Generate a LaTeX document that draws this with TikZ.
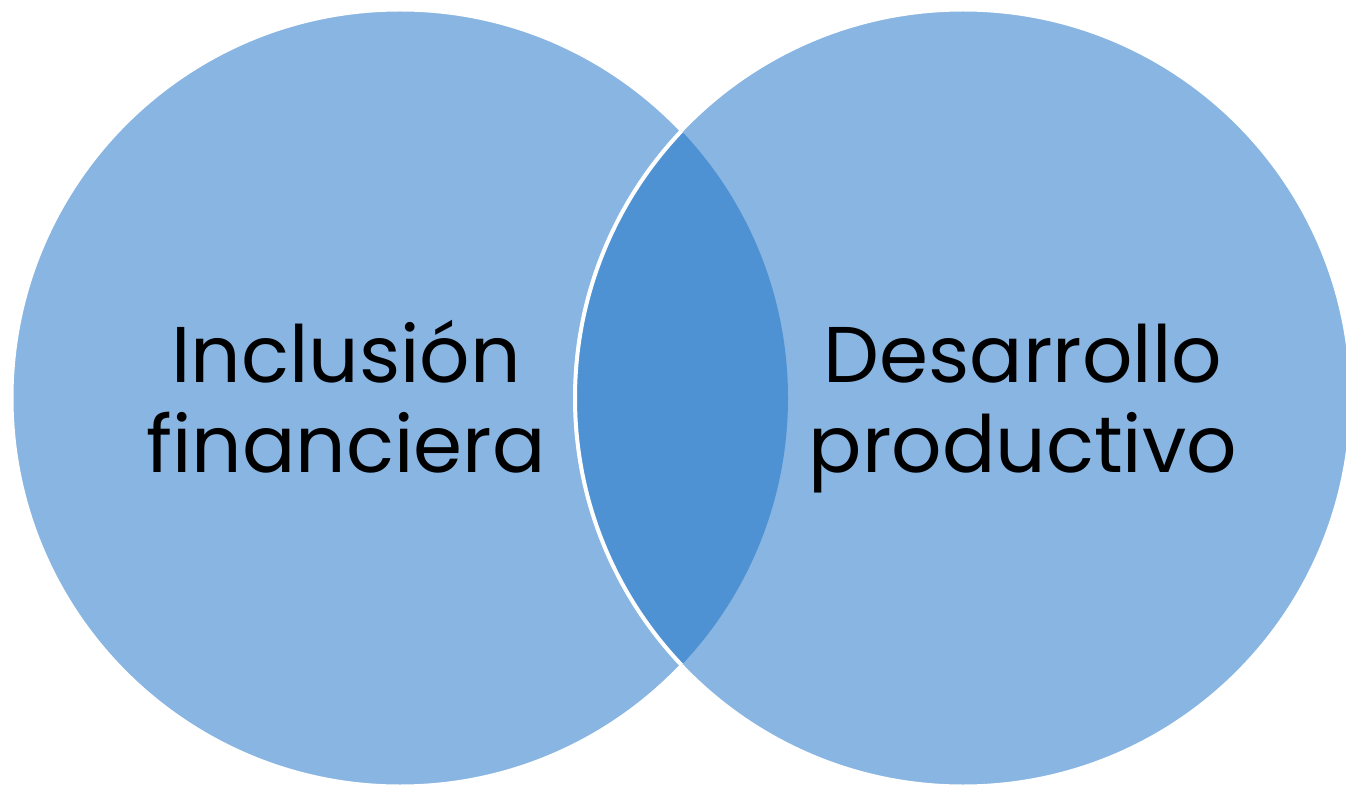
\documentclass[tikz,border=0pt]{standalone}
\usepackage{fontspec}
\setmainfont{Poppins}
\definecolor{lightblue}{HTML}{89B5E2}
\definecolor{darkblue}{HTML}{4E92D3}
\begin{document}
\begin{tikzpicture}[x=1pt,y=-1pt,
  circ/.style={fill=lightblue,draw=white,line width=3pt},
  label/.style={align=center,anchor=base,font=\fontsize{79}{90}\selectfont,text=black}]
\useasboundingbox (0,0) rectangle (1346,786);

\coordinate (cl) at (400,398);
\coordinate (cr) at (963,398);

\draw[circ] (cl) circle (388);
\draw[circ] (cr) circle (388);
\begin{scope}
\clip (cl) circle (388);
\fill[darkblue] (cr) circle (388);
\draw[white,line width=4pt] (cr) circle (388);
\end{scope}

\node[label] (incl) at (346,472) {Inclusión\\financiera};
\node[label] (desa) at (1023,472) {Desarrollo\\productivo};

\end{tikzpicture}
\end{document}
